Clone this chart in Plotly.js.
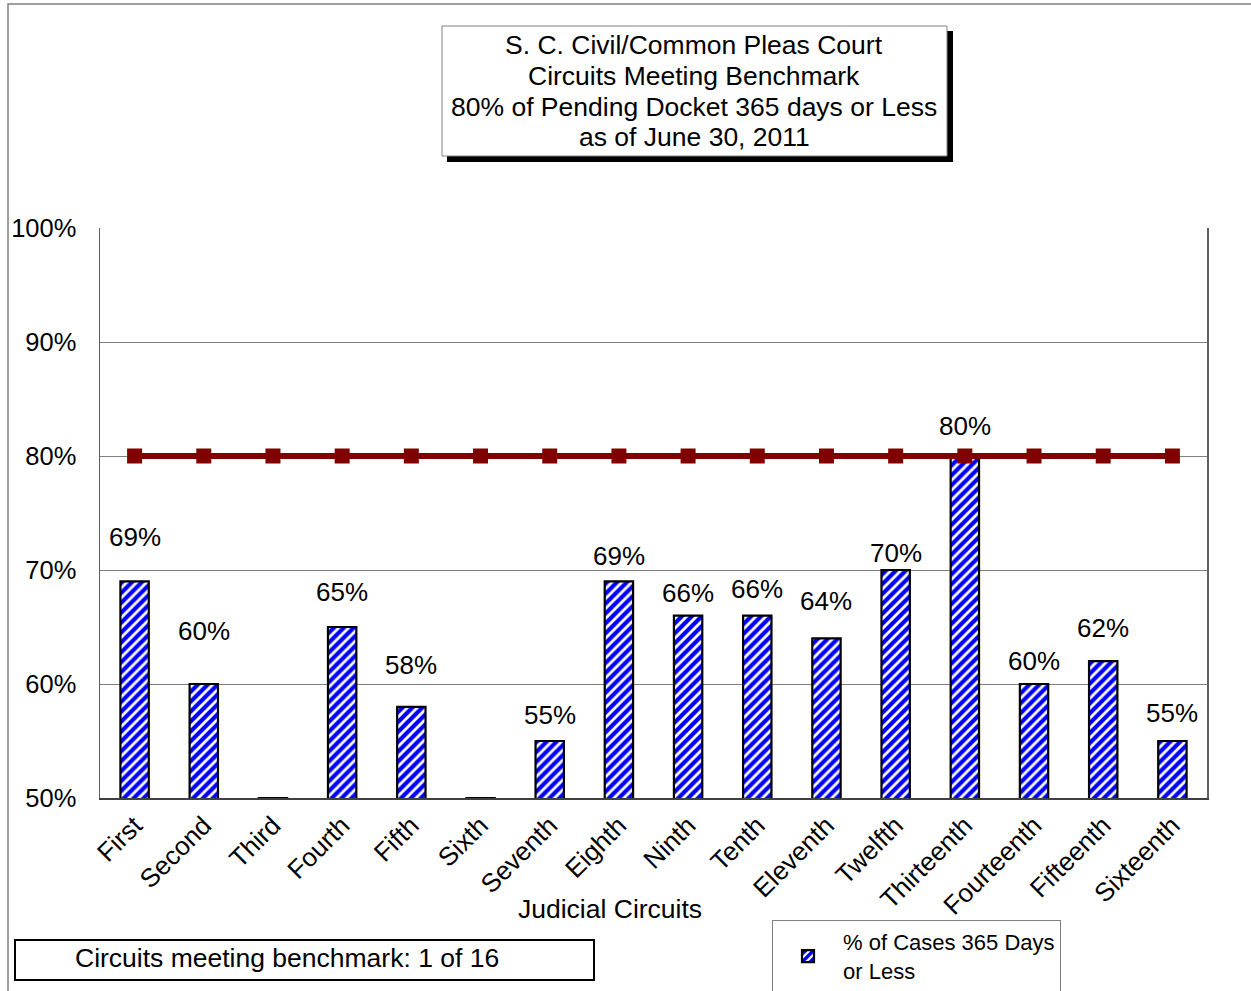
<!DOCTYPE html>
<html>
<head>
<meta charset="utf-8">
<script src="https://cdn.plot.ly/plotly-3.0.1.min.js"></script>
<style>
  html, body { margin: 0; padding: 0; background: #fff; }
  #chart { width: 1251px; height: 991px; }
</style>
</head>
<body>
<div id="chart"></div>
<script>
// Judicial circuits on the category axis
const circuits = ['First', 'Second', 'Third', 'Fourth', 'Fifth', 'Sixth', 'Seventh', 'Eighth',
  'Ninth', 'Tenth', 'Eleventh', 'Twelfth', 'Thirteenth', 'Fourteenth', 'Fifteenth', 'Sixteenth'];

// Percent of pending cases 365 days old or less (Third and Sixth sit at the axis floor, unlabeled)
const pctWithin365 = [69, 60, 50, 65, 58, 50, 55, 69, 66, 66, 64, 70, 80, 60, 62, 55];
const labelShown = [true, true, false, true, true, false, true, true, true, true, true, true, true, true, true, true];

// Benchmark line
const benchmark = [80, 80, 80, 80, 80, 80, 80, 80, 80, 80, 80, 80, 80, 80, 80, 80];

// Vertical offsets (px) of the data labels above each bar top
const labelLift = [44, 53, 0, 35, 42, 0, 26, 25, 23, 27, 37, 17, 30, 23, 33, 28];

const yTickVals = [50, 60, 70, 80, 90, 100];

const titleLines = ['S. C. Civil/Common Pleas Court', 'Circuits Meeting Benchmark',
  '80% of Pending Docket 365 days or Less', 'as of June 30, 2011'];

const FONT = '"Liberation Sans", Arial, sans-serif';

// plot area in pixels: left 100, right 1207, top 228, bottom 798
const PL = 100, PR = 1207, PT = 228, PB = 798;
const px = x => (x - PL) / (PR - PL);
const py = y => (PB - y) / (PB - PT);

const bars = {
  type: 'bar',
  x: circuits,
  y: pctWithin365,
  name: '% of Cases 365 Days<br>or Less',
  width: 0.41,
  marker: {
    color: '#ffffff',
    line: { color: '#000000', width: 2.2 },
    pattern: { shape: '/', fgcolor: '#0000ff', bgcolor: '#ffffff', size: 7, solidity: 0.6, fillmode: 'replace' }
  },
  hoverinfo: 'x+y'
};

const line = {
  type: 'scatter',
  mode: 'lines+markers',
  x: circuits,
  y: benchmark,
  showlegend: false,
  line: { color: '#800000', width: 6 },
  marker: { symbol: 'square', size: 15, color: '#800000' },
  cliponaxis: false
};

const valueLabels = circuits.map((c, i) => labelShown[i] ? ({
  x: c, y: pctWithin365[i], xref: 'x', yref: 'y',
  text: pctWithin365[i] + '%', showarrow: false,
  yanchor: 'middle', yshift: labelLift[i],
  font: { family: FONT, size: 26, color: '#000' }
}) : null).filter(Boolean);

const shapes = [
  // outer frame (left and top edges)
  { type: 'path', xref: 'paper', yref: 'paper',
    path: `M ${px(8)} ${py(1000)} L ${px(8)} ${py(4)} L ${px(1260)} ${py(4)}`,
    line: { color: '#808080', width: 1.5 } },
  // title box shadow and box
  { type: 'rect', xref: 'paper', yref: 'paper', x0: px(447), x1: px(953), y0: py(31), y1: py(162),
    fillcolor: '#000', line: { width: 0 } },
  { type: 'rect', xref: 'paper', yref: 'paper', x0: px(442), x1: px(947), y0: py(26), y1: py(156),
    fillcolor: '#fff', line: { color: '#808080', width: 1 } },
  // benchmark count box
  { type: 'rect', xref: 'paper', yref: 'paper', x0: px(15), x1: px(594), y0: py(940), y1: py(980),
    fillcolor: '#fff', line: { color: '#000', width: 2 } }
];

const titleRows = [45, 76, 107, 137];
const titleAnns = titleLines.map((t, i) => ({
  xref: 'paper', yref: 'paper', x: px(694), y: py(titleRows[i]), xanchor: 'center', yanchor: 'middle',
  showarrow: false, text: t, font: { family: FONT, size: 26.5, color: '#000' }
}));

const annotations = valueLabels.concat(titleAnns, [
  { xref: 'paper', yref: 'paper', x: px(610), y: py(909), xanchor: 'center', yanchor: 'middle',
    showarrow: false, text: 'Judicial Circuits',
    font: { family: FONT, size: 26.5, color: '#000' } },
  { xref: 'paper', yref: 'paper', x: px(287), y: py(958), xanchor: 'center', yanchor: 'middle',
    showarrow: false, text: 'Circuits meeting benchmark: 1 of 16',
    font: { family: FONT, size: 26.5, color: '#000' } }
]);

const layout = {
  width: 1251, height: 991,
  margin: { l: PL, r: 1251 - PR, t: PT, b: 991 - PB, pad: 0, autoexpand: false },
  paper_bgcolor: '#fff', plot_bgcolor: '#fff',
  font: { family: FONT, size: 25, color: '#000' },
  showlegend: true,
  legend: {
    x: px(772), y: py(920), xanchor: 'left', yanchor: 'top',
    bgcolor: '#fff', bordercolor: '#808080', borderwidth: 1,
    font: { family: FONT, size: 22, color: '#000' },
    itemwidth: 60
  },
  xaxis: {
    type: 'category', range: [-0.5, 15.5], automargin: false,
    tickangle: -45, ticks: '', showgrid: false,
    showline: true, linecolor: '#404040', linewidth: 2, mirror: false,
    tickfont: { family: FONT, size: 26, color: '#000' },
    fixedrange: true
  },
  yaxis: {
    range: [50, 100], automargin: false,
    tickvals: yTickVals, ticktext: yTickVals.map(v => v + '%'),
    ticks: '', ticklabelstandoff: 17,
    showgrid: true, gridcolor: '#808080', gridwidth: 1,
    showline: true, linecolor: '#606060', linewidth: 1.5, mirror: true,
    zeroline: false,
    tickfont: { family: FONT, size: 25.5, color: '#000' },
    fixedrange: true
  },
  shapes: shapes,
  annotations: annotations
};

Plotly.newPlot('chart', [bars, line], layout, { displayModeBar: false, staticPlot: true });
</script>
</body>
</html>
